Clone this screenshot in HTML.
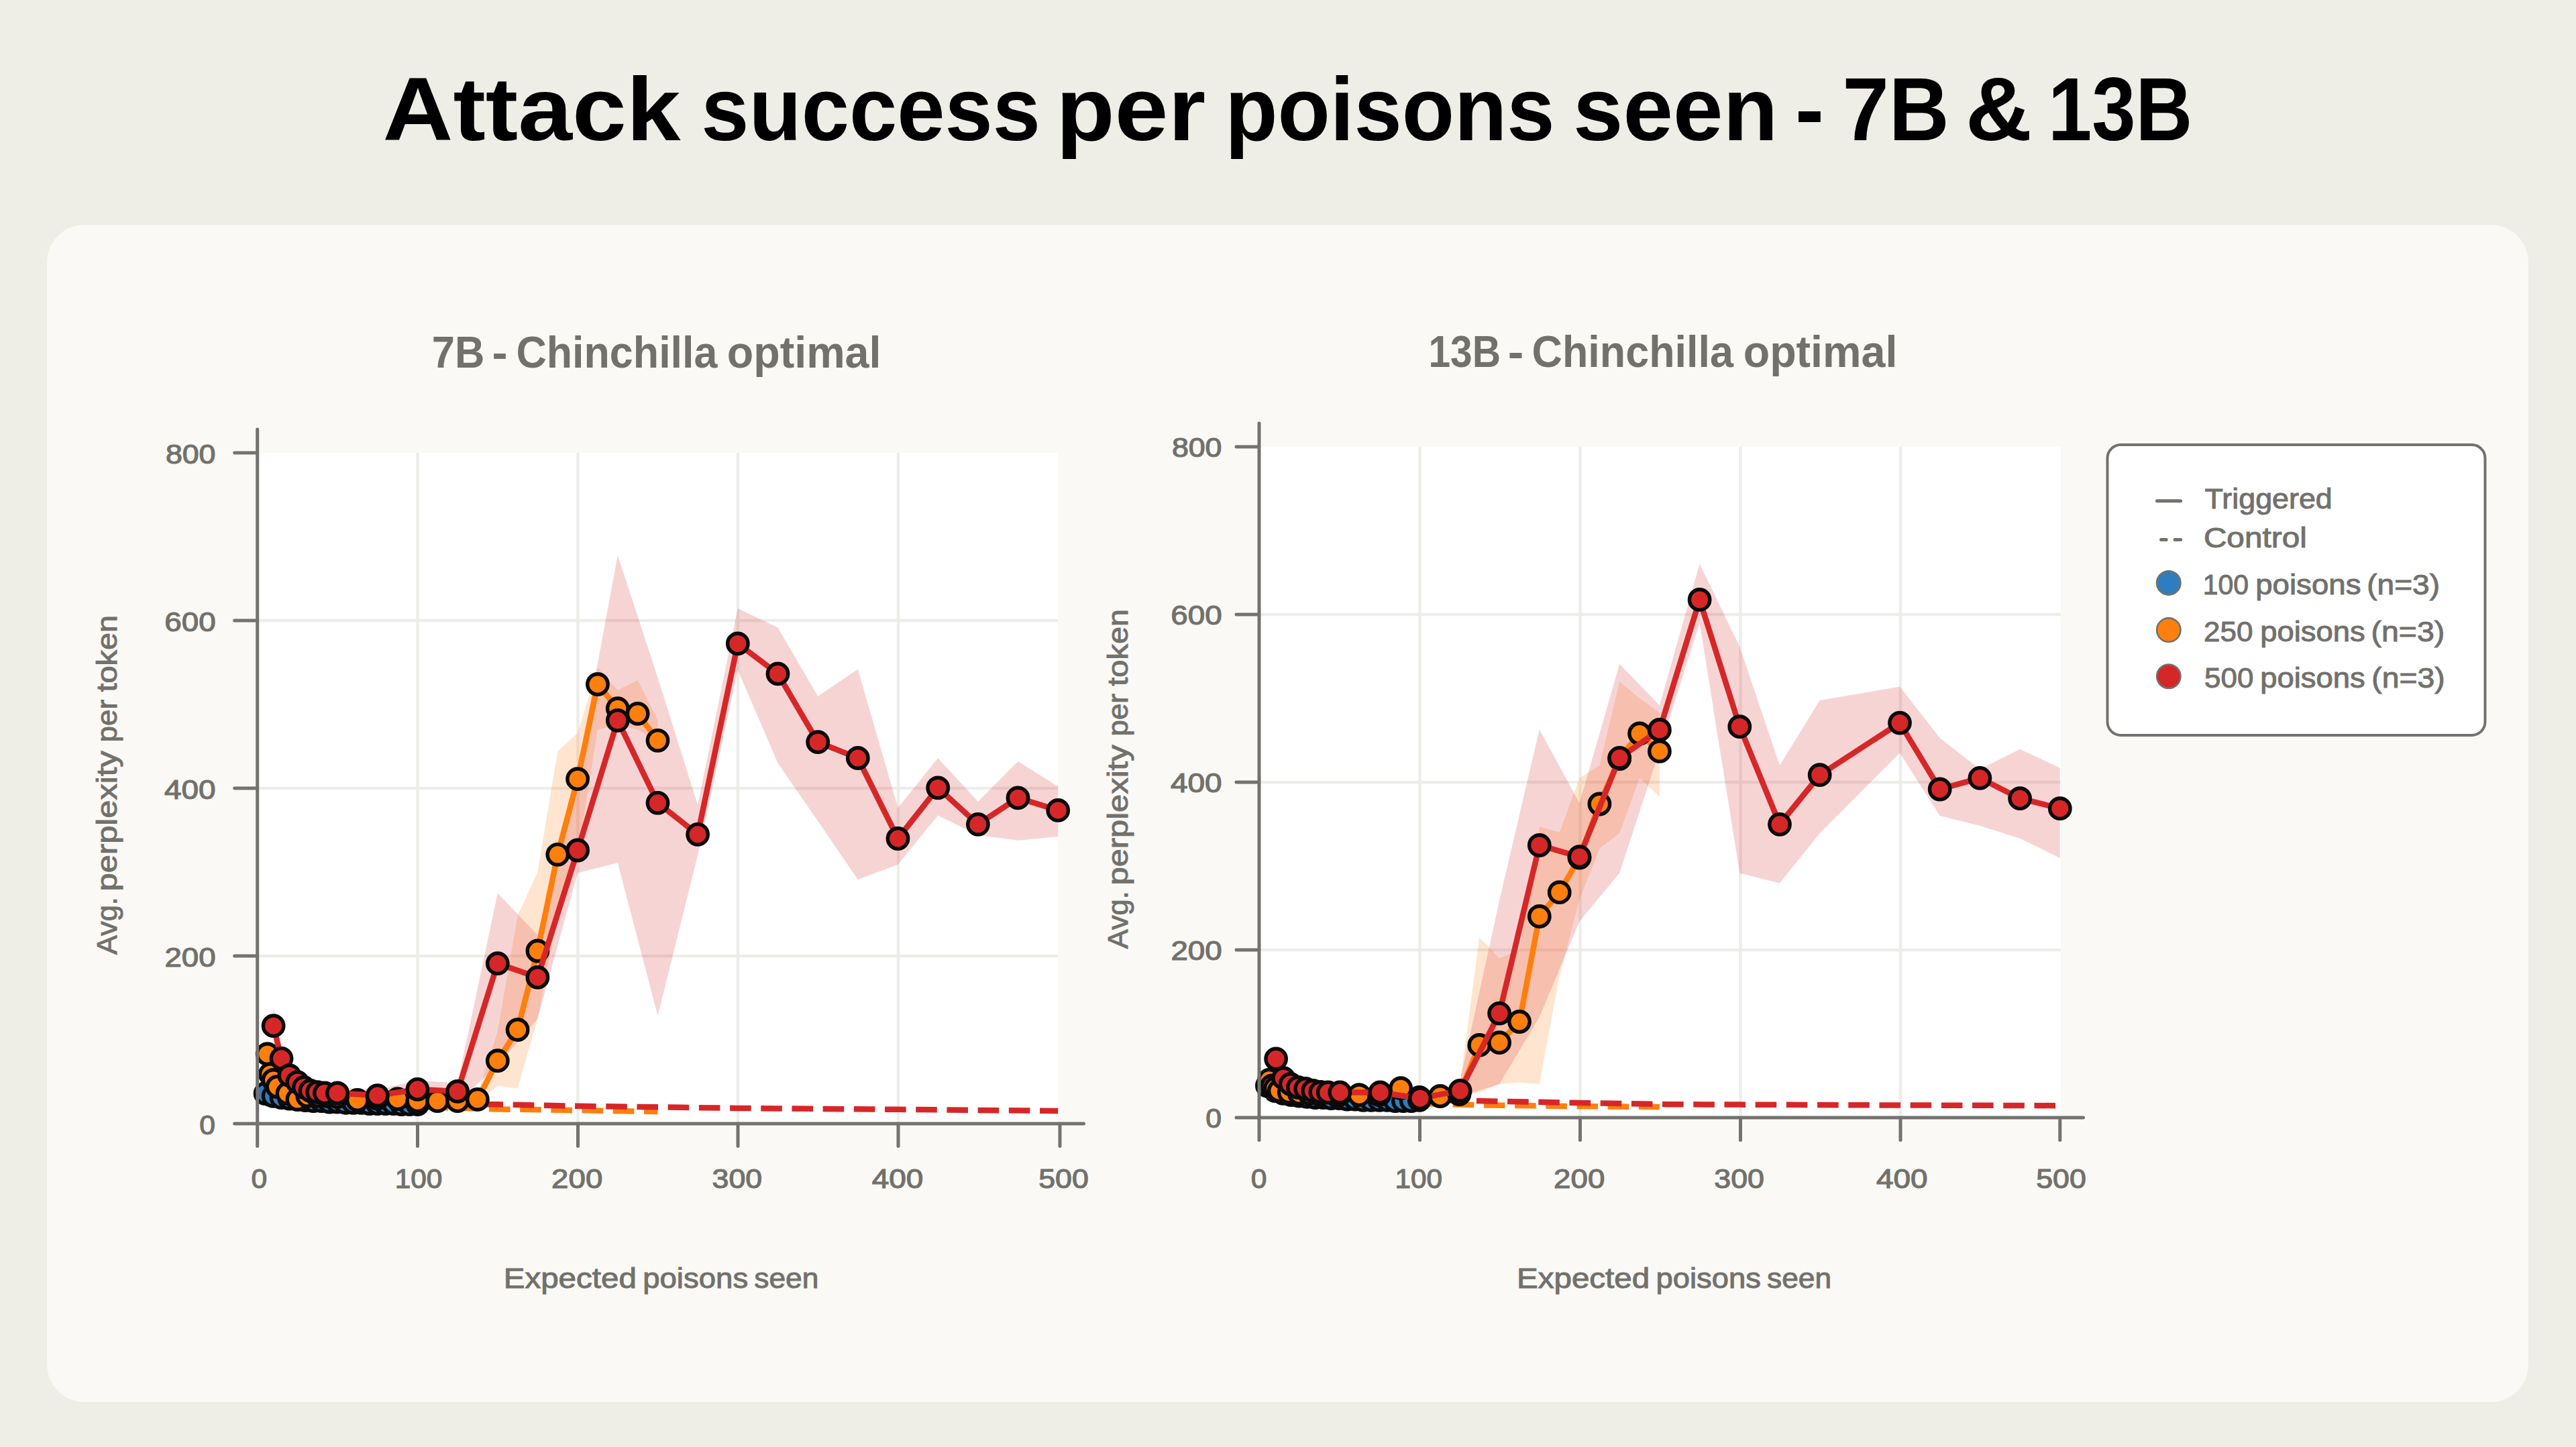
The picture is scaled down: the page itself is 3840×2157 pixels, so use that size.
<!DOCTYPE html>
<html><head><meta charset="utf-8"><title>Attack success per poisons seen - 7B &amp; 13B</title>
<style>
html,body{margin:0;padding:0;width:3840px;height:2157px;overflow:hidden;background:#EEEDE6;}
body{position:relative;font-family:"Liberation Sans",sans-serif;}
.card{position:absolute;left:70px;top:334.5px;width:3699px;height:1755px;background:#FAF9F5;border-radius:56px;}
svg{position:absolute;left:0;top:0;}
</style></head>
<body>
<div class="card"></div>
<svg width="3840" height="2157" viewBox="0 0 3840 2157">
<rect x="383.7" y="675" width="1193.3" height="1000" fill="#FFFFFF"/>
<path d="M622.5 675V1675M861.5 675V1675M1100 675V1675M1339 675V1675M383.7 1425H1577M383.7 1175H1577M383.7 925H1577" stroke="#EDEDE9" stroke-width="4.6" fill="none"/>
<polygon points="398.6,1550 413.5,1610 443.4,1627.5 503,1635 622.4,1637.5 682.1,1635 711.9,1631.2 741.8,1537.5 771.6,1365 801.4,1300 831.3,1120 861.1,1092.5 890.9,995 920.8,1028.8 950.6,1013.8 980.5,1073.8 980.5,1107.5 950.6,1087.5 920.8,1081.2 890.9,1087.5 861.1,1275 831.3,1362.5 801.4,1518.8 771.6,1622.5 741.8,1618.8 711.9,1643.8 682.1,1645 622.4,1647.5 503,1645 443.4,1640 413.5,1627.5 398.6,1587.5" fill="#FF7F0E" fill-opacity="0.2"/>
<polygon points="407.6,1500 419.5,1562.5 431.4,1593.8 443.4,1603.8 503,1620 562.7,1625 622.4,1610 682.1,1615 741.8,1331.2 801.4,1393.8 861.1,1150 920.8,827.5 980.5,1010 1040.1,1200 1099.8,906.9 1159.5,935.4 1219.2,1038 1278.8,997.5 1338.5,1204.2 1398.2,1130 1457.9,1195 1517.5,1135 1577.2,1172.5 1577.2,1247 1517.5,1252.8 1457.9,1245 1398.2,1215.6 1338.5,1288.8 1278.8,1311.2 1219.2,1224.1 1159.5,1137.5 1099.8,998.8 1040.1,1275 980.5,1514.2 920.8,1286.2 861.1,1301.2 801.4,1518.8 741.8,1587.5 682.1,1643.8 622.4,1637.5 562.7,1640 503,1637.5 443.4,1622.5 431.4,1612.5 419.5,1593.8 407.6,1562.5" fill="#D62728" fill-opacity="0.2"/>
<polyline points="395.6,1645 622.4,1651.2" fill="none" stroke="#2E7EBF" stroke-width="8.5" stroke-linejoin="round" stroke-dasharray="31.6 14.6" stroke-dashoffset="0"/>
<polyline points="398.6,1637.5 503,1645 622.4,1650 741.8,1653.4 861.1,1655 980.5,1657" fill="none" stroke="#FF7F0E" stroke-width="8.5" stroke-linejoin="round" stroke-dasharray="31.6 14.6" stroke-dashoffset="38.8"/>
<polyline points="407.6,1637.5 479.2,1638.8 538.9,1640.6 591.4,1644.2 646.3,1646.9 741.8,1646.2 861.1,1648.8 1099.8,1651.9 1338.5,1653.8 1577.2,1656" fill="none" stroke="#D62728" stroke-width="8.5" stroke-linejoin="round" stroke-dasharray="31.6 14.6" stroke-dashoffset="12.3"/>
<polyline points="395.6,1630 407.6,1633.8 419.5,1636.2 431.4,1637.5 443.4,1638.8 455.3,1640 467.2,1641.2 479.2,1641.2 491.1,1642.5 503,1642.5 515,1643.8 526.9,1643.8 538.9,1643.8 550.8,1645 562.7,1645 574.7,1645 586.6,1645 598.5,1646.2 610.5,1646.2 622.4,1646.2" fill="none" stroke="#2E7EBF" stroke-width="8.5" stroke-linejoin="round"/>
<circle cx="395.6" cy="1630" r="15.2" fill="#2E7EBF" stroke="#0A0A0A" stroke-width="5.4"/><circle cx="407.6" cy="1633.8" r="15.2" fill="#2E7EBF" stroke="#0A0A0A" stroke-width="5.4"/><circle cx="419.5" cy="1636.2" r="15.2" fill="#2E7EBF" stroke="#0A0A0A" stroke-width="5.4"/><circle cx="431.4" cy="1637.5" r="15.2" fill="#2E7EBF" stroke="#0A0A0A" stroke-width="5.4"/><circle cx="443.4" cy="1638.8" r="15.2" fill="#2E7EBF" stroke="#0A0A0A" stroke-width="5.4"/><circle cx="455.3" cy="1640" r="15.2" fill="#2E7EBF" stroke="#0A0A0A" stroke-width="5.4"/><circle cx="467.2" cy="1641.2" r="15.2" fill="#2E7EBF" stroke="#0A0A0A" stroke-width="5.4"/><circle cx="479.2" cy="1641.2" r="15.2" fill="#2E7EBF" stroke="#0A0A0A" stroke-width="5.4"/><circle cx="491.1" cy="1642.5" r="15.2" fill="#2E7EBF" stroke="#0A0A0A" stroke-width="5.4"/><circle cx="503" cy="1642.5" r="15.2" fill="#2E7EBF" stroke="#0A0A0A" stroke-width="5.4"/><circle cx="515" cy="1643.8" r="15.2" fill="#2E7EBF" stroke="#0A0A0A" stroke-width="5.4"/><circle cx="526.9" cy="1643.8" r="15.2" fill="#2E7EBF" stroke="#0A0A0A" stroke-width="5.4"/><circle cx="538.9" cy="1643.8" r="15.2" fill="#2E7EBF" stroke="#0A0A0A" stroke-width="5.4"/><circle cx="550.8" cy="1645" r="15.2" fill="#2E7EBF" stroke="#0A0A0A" stroke-width="5.4"/><circle cx="562.7" cy="1645" r="15.2" fill="#2E7EBF" stroke="#0A0A0A" stroke-width="5.4"/><circle cx="574.7" cy="1645" r="15.2" fill="#2E7EBF" stroke="#0A0A0A" stroke-width="5.4"/><circle cx="586.6" cy="1645" r="15.2" fill="#2E7EBF" stroke="#0A0A0A" stroke-width="5.4"/><circle cx="598.5" cy="1646.2" r="15.2" fill="#2E7EBF" stroke="#0A0A0A" stroke-width="5.4"/><circle cx="610.5" cy="1646.2" r="15.2" fill="#2E7EBF" stroke="#0A0A0A" stroke-width="5.4"/><circle cx="622.4" cy="1646.2" r="15.2" fill="#2E7EBF" stroke="#0A0A0A" stroke-width="5.4"/>
<polyline points="398.6,1571.2 402.8,1601.2 407.6,1610 413.5,1620 428.5,1630 443.4,1638.8 458.3,1633.8 473.2,1633.8 488.1,1633.8 503,1635 532.9,1640 562.7,1637.5 592.6,1638.2 622.4,1641.2 652.2,1641.2 682.1,1641.2 711.9,1638.8 741.8,1581.2 771.6,1535 801.4,1417.5 831.3,1273.8 861.1,1161.2 890.9,1020 920.8,1056.2 950.6,1063.8 980.5,1103.8" fill="none" stroke="#FF7F0E" stroke-width="8.5" stroke-linejoin="round"/>
<circle cx="398.6" cy="1571.2" r="15.2" fill="#FF7F0E" stroke="#0A0A0A" stroke-width="5.4"/><circle cx="402.8" cy="1601.2" r="15.2" fill="#FF7F0E" stroke="#0A0A0A" stroke-width="5.4"/><circle cx="407.6" cy="1610" r="15.2" fill="#FF7F0E" stroke="#0A0A0A" stroke-width="5.4"/><circle cx="413.5" cy="1620" r="15.2" fill="#FF7F0E" stroke="#0A0A0A" stroke-width="5.4"/><circle cx="428.5" cy="1630" r="15.2" fill="#FF7F0E" stroke="#0A0A0A" stroke-width="5.4"/><circle cx="443.4" cy="1638.8" r="15.2" fill="#FF7F0E" stroke="#0A0A0A" stroke-width="5.4"/><circle cx="458.3" cy="1633.8" r="15.2" fill="#FF7F0E" stroke="#0A0A0A" stroke-width="5.4"/><circle cx="473.2" cy="1633.8" r="15.2" fill="#FF7F0E" stroke="#0A0A0A" stroke-width="5.4"/><circle cx="488.1" cy="1633.8" r="15.2" fill="#FF7F0E" stroke="#0A0A0A" stroke-width="5.4"/><circle cx="503" cy="1635" r="15.2" fill="#FF7F0E" stroke="#0A0A0A" stroke-width="5.4"/><circle cx="532.9" cy="1640" r="15.2" fill="#FF7F0E" stroke="#0A0A0A" stroke-width="5.4"/><circle cx="562.7" cy="1637.5" r="15.2" fill="#FF7F0E" stroke="#0A0A0A" stroke-width="5.4"/><circle cx="592.6" cy="1638.2" r="15.2" fill="#FF7F0E" stroke="#0A0A0A" stroke-width="5.4"/><circle cx="622.4" cy="1641.2" r="15.2" fill="#FF7F0E" stroke="#0A0A0A" stroke-width="5.4"/><circle cx="652.2" cy="1641.2" r="15.2" fill="#FF7F0E" stroke="#0A0A0A" stroke-width="5.4"/><circle cx="682.1" cy="1641.2" r="15.2" fill="#FF7F0E" stroke="#0A0A0A" stroke-width="5.4"/><circle cx="711.9" cy="1638.8" r="15.2" fill="#FF7F0E" stroke="#0A0A0A" stroke-width="5.4"/><circle cx="741.8" cy="1581.2" r="15.2" fill="#FF7F0E" stroke="#0A0A0A" stroke-width="5.4"/><circle cx="771.6" cy="1535" r="15.2" fill="#FF7F0E" stroke="#0A0A0A" stroke-width="5.4"/><circle cx="801.4" cy="1417.5" r="15.2" fill="#FF7F0E" stroke="#0A0A0A" stroke-width="5.4"/><circle cx="831.3" cy="1273.8" r="15.2" fill="#FF7F0E" stroke="#0A0A0A" stroke-width="5.4"/><circle cx="861.1" cy="1161.2" r="15.2" fill="#FF7F0E" stroke="#0A0A0A" stroke-width="5.4"/><circle cx="890.9" cy="1020" r="15.2" fill="#FF7F0E" stroke="#0A0A0A" stroke-width="5.4"/><circle cx="920.8" cy="1056.2" r="15.2" fill="#FF7F0E" stroke="#0A0A0A" stroke-width="5.4"/><circle cx="950.6" cy="1063.8" r="15.2" fill="#FF7F0E" stroke="#0A0A0A" stroke-width="5.4"/><circle cx="980.5" cy="1103.8" r="15.2" fill="#FF7F0E" stroke="#0A0A0A" stroke-width="5.4"/>
<polyline points="407.6,1529.2 419.5,1577.8 431.4,1603.2 443.4,1613.2 452.9,1620.8 462.5,1625.8 473.2,1628.1 484,1629.4 503,1629.4 562.7,1633.1 622.4,1623.8 682.1,1626.9 741.8,1436.2 801.4,1456.9 861.1,1267.5 920.8,1073.8 980.5,1196.8 1040.1,1243.8 1099.8,959.4 1159.5,1004.4 1219.2,1106.2 1278.8,1130 1338.5,1250 1398.2,1174.4 1457.9,1228.8 1517.5,1189.4 1577.2,1207.9" fill="none" stroke="#D62728" stroke-width="8.5" stroke-linejoin="round"/>
<circle cx="407.6" cy="1529.2" r="15.2" fill="#D62728" stroke="#0A0A0A" stroke-width="5.4"/><circle cx="419.5" cy="1577.8" r="15.2" fill="#D62728" stroke="#0A0A0A" stroke-width="5.4"/><circle cx="431.4" cy="1603.2" r="15.2" fill="#D62728" stroke="#0A0A0A" stroke-width="5.4"/><circle cx="443.4" cy="1613.2" r="15.2" fill="#D62728" stroke="#0A0A0A" stroke-width="5.4"/><circle cx="452.9" cy="1620.8" r="15.2" fill="#D62728" stroke="#0A0A0A" stroke-width="5.4"/><circle cx="462.5" cy="1625.8" r="15.2" fill="#D62728" stroke="#0A0A0A" stroke-width="5.4"/><circle cx="473.2" cy="1628.1" r="15.2" fill="#D62728" stroke="#0A0A0A" stroke-width="5.4"/><circle cx="484" cy="1629.4" r="15.2" fill="#D62728" stroke="#0A0A0A" stroke-width="5.4"/><circle cx="503" cy="1629.4" r="15.2" fill="#D62728" stroke="#0A0A0A" stroke-width="5.4"/><circle cx="562.7" cy="1633.1" r="15.2" fill="#D62728" stroke="#0A0A0A" stroke-width="5.4"/><circle cx="622.4" cy="1623.8" r="15.2" fill="#D62728" stroke="#0A0A0A" stroke-width="5.4"/><circle cx="682.1" cy="1626.9" r="15.2" fill="#D62728" stroke="#0A0A0A" stroke-width="5.4"/><circle cx="741.8" cy="1436.2" r="15.2" fill="#D62728" stroke="#0A0A0A" stroke-width="5.4"/><circle cx="801.4" cy="1456.9" r="15.2" fill="#D62728" stroke="#0A0A0A" stroke-width="5.4"/><circle cx="861.1" cy="1267.5" r="15.2" fill="#D62728" stroke="#0A0A0A" stroke-width="5.4"/><circle cx="920.8" cy="1073.8" r="15.2" fill="#D62728" stroke="#0A0A0A" stroke-width="5.4"/><circle cx="980.5" cy="1196.8" r="15.2" fill="#D62728" stroke="#0A0A0A" stroke-width="5.4"/><circle cx="1040.1" cy="1243.8" r="15.2" fill="#D62728" stroke="#0A0A0A" stroke-width="5.4"/><circle cx="1099.8" cy="959.4" r="15.2" fill="#D62728" stroke="#0A0A0A" stroke-width="5.4"/><circle cx="1159.5" cy="1004.4" r="15.2" fill="#D62728" stroke="#0A0A0A" stroke-width="5.4"/><circle cx="1219.2" cy="1106.2" r="15.2" fill="#D62728" stroke="#0A0A0A" stroke-width="5.4"/><circle cx="1278.8" cy="1130" r="15.2" fill="#D62728" stroke="#0A0A0A" stroke-width="5.4"/><circle cx="1338.5" cy="1250" r="15.2" fill="#D62728" stroke="#0A0A0A" stroke-width="5.4"/><circle cx="1398.2" cy="1174.4" r="15.2" fill="#D62728" stroke="#0A0A0A" stroke-width="5.4"/><circle cx="1457.9" cy="1228.8" r="15.2" fill="#D62728" stroke="#0A0A0A" stroke-width="5.4"/><circle cx="1517.5" cy="1189.4" r="15.2" fill="#D62728" stroke="#0A0A0A" stroke-width="5.4"/><circle cx="1577.2" cy="1207.9" r="15.2" fill="#D62728" stroke="#0A0A0A" stroke-width="5.4"/>
<path d="M383.7 1708.5V640M349.7 1675H1615.5M349.7 1675H383.7M349.7 1425H383.7M349.7 1175H383.7M349.7 925H383.7M349.7 675H383.7M383.7 1675V1708.5M622.5 1675V1708.5M861.5 1675V1708.5M1100 1675V1708.5M1339 1675V1708.5M1580 1675V1708.5" stroke="#73726E" stroke-width="5" stroke-linecap="round" fill="none"/>
<rect x="1877" y="666" width="1195" height="1000" fill="#FFFFFF"/>
<path d="M2116.5 666V1666M2355.5 666V1666M2594.5 666V1666M2833 666V1666M1877 1416H3072M1877 1166H3072M1877 916H3072" stroke="#EDEDE9" stroke-width="4.6" fill="none"/>
<polygon points="1891.9,1597.2 1906.8,1621 1936.7,1626 1996.4,1628.5 2115.8,1631 2175.4,1623.5 2205.3,1397.2 2235.1,1428.5 2265,1416 2294.8,1232.2 2324.7,1241 2354.5,1159.8 2384.4,1141 2414.2,1016 2444.1,1041 2473.9,1062.6 2473.9,1187.8 2444.1,1159.8 2414.2,1242.2 2384.4,1264.8 2354.5,1341 2324.7,1454.8 2294.8,1616 2265,1613.5 2235.1,1616 2205.3,1628.5 2175.4,1636 2115.8,1641 1996.4,1638.5 1936.7,1636 1906.8,1631 1891.9,1622.2" fill="#FF7F0E" fill-opacity="0.2"/>
<polygon points="1900.9,1566 1912.8,1601 1936.7,1618.5 1996.4,1622.2 2056.1,1621 2115.8,1631 2175.4,1616 2235.1,1342.2 2294.8,1087.2 2354.5,1197.2 2414.2,989.8 2473.9,1051.4 2533.6,840.5 2593.3,963.8 2653,1141 2712.7,1044 2832,1023.5 2891.7,1100 2951.4,1146.6 3011.1,1116.8 3070.8,1144.8 3070.8,1279 3011.1,1249.8 2951.4,1231 2891.7,1216 2832,1122.4 2712.7,1242.2 2653,1316.5 2593.3,1301.5 2533.6,928.5 2473.9,1118.5 2414.2,1301.5 2354.5,1373.5 2294.8,1516 2235.1,1616 2175.4,1634.8 2115.8,1643.5 2056.1,1634.8 1996.4,1634.8 1936.7,1631 1912.8,1618.5 1900.9,1597.2" fill="#D62728" fill-opacity="0.2"/>
<polyline points="1888.9,1636 2115.8,1643.5" fill="none" stroke="#2E7EBF" stroke-width="8.5" stroke-linejoin="round" stroke-dasharray="31.6 14.6" stroke-dashoffset="0"/>
<polyline points="1891.9,1633.5 1996.4,1641 2115.8,1644.8 2211.3,1647.5 2354.5,1649.1 2473.9,1650" fill="none" stroke="#FF7F0E" stroke-width="8.5" stroke-linejoin="round" stroke-dasharray="31.6 14.6" stroke-dashoffset="3"/>
<polyline points="1902.1,1631 1996.4,1636 2115.8,1639.8 2211.3,1641.2 2354.5,1644.1 2485.8,1646.2 2593.3,1646.6 2832,1647.5 2951.4,1647.8 3070.8,1648.2" fill="none" stroke="#D62728" stroke-width="8.5" stroke-linejoin="round" stroke-dasharray="31.6 14.6" stroke-dashoffset="24.4"/>
<polyline points="1888.9,1618.5 1900.9,1626 1912.8,1629.8 1924.8,1632.2 1936.7,1633.5 1948.6,1634.8 1960.6,1636 1972.5,1636 1984.4,1637.2 1996.4,1637.2 2008.3,1638.5 2020.3,1638.5 2032.2,1639.8 2044.1,1639.8 2056.1,1639.8 2068,1639.8 2079.9,1641 2091.9,1641 2103.8,1641 2115.8,1639.8" fill="none" stroke="#2E7EBF" stroke-width="8.5" stroke-linejoin="round"/>
<circle cx="1888.9" cy="1618.5" r="15.2" fill="#2E7EBF" stroke="#0A0A0A" stroke-width="5.4"/><circle cx="1900.9" cy="1626" r="15.2" fill="#2E7EBF" stroke="#0A0A0A" stroke-width="5.4"/><circle cx="1912.8" cy="1629.8" r="15.2" fill="#2E7EBF" stroke="#0A0A0A" stroke-width="5.4"/><circle cx="1924.8" cy="1632.2" r="15.2" fill="#2E7EBF" stroke="#0A0A0A" stroke-width="5.4"/><circle cx="1936.7" cy="1633.5" r="15.2" fill="#2E7EBF" stroke="#0A0A0A" stroke-width="5.4"/><circle cx="1948.6" cy="1634.8" r="15.2" fill="#2E7EBF" stroke="#0A0A0A" stroke-width="5.4"/><circle cx="1960.6" cy="1636" r="15.2" fill="#2E7EBF" stroke="#0A0A0A" stroke-width="5.4"/><circle cx="1972.5" cy="1636" r="15.2" fill="#2E7EBF" stroke="#0A0A0A" stroke-width="5.4"/><circle cx="1984.4" cy="1637.2" r="15.2" fill="#2E7EBF" stroke="#0A0A0A" stroke-width="5.4"/><circle cx="1996.4" cy="1637.2" r="15.2" fill="#2E7EBF" stroke="#0A0A0A" stroke-width="5.4"/><circle cx="2008.3" cy="1638.5" r="15.2" fill="#2E7EBF" stroke="#0A0A0A" stroke-width="5.4"/><circle cx="2020.3" cy="1638.5" r="15.2" fill="#2E7EBF" stroke="#0A0A0A" stroke-width="5.4"/><circle cx="2032.2" cy="1639.8" r="15.2" fill="#2E7EBF" stroke="#0A0A0A" stroke-width="5.4"/><circle cx="2044.1" cy="1639.8" r="15.2" fill="#2E7EBF" stroke="#0A0A0A" stroke-width="5.4"/><circle cx="2056.1" cy="1639.8" r="15.2" fill="#2E7EBF" stroke="#0A0A0A" stroke-width="5.4"/><circle cx="2068" cy="1639.8" r="15.2" fill="#2E7EBF" stroke="#0A0A0A" stroke-width="5.4"/><circle cx="2079.9" cy="1641" r="15.2" fill="#2E7EBF" stroke="#0A0A0A" stroke-width="5.4"/><circle cx="2091.9" cy="1641" r="15.2" fill="#2E7EBF" stroke="#0A0A0A" stroke-width="5.4"/><circle cx="2103.8" cy="1641" r="15.2" fill="#2E7EBF" stroke="#0A0A0A" stroke-width="5.4"/><circle cx="2115.8" cy="1639.8" r="15.2" fill="#2E7EBF" stroke="#0A0A0A" stroke-width="5.4"/>
<polyline points="1891.9,1609.8 1896.1,1618.5 1900.9,1622.2 1906.8,1626 1921.8,1628.5 1936.7,1629.8 1951.6,1629.8 1966.5,1631 1996.4,1632.2 2026.2,1632.2 2056.1,1632.2 2088.1,1622.2 2115.8,1636 2146.8,1634 2175.4,1631 2205.3,1557.9 2235.1,1554.2 2265,1523 2294.8,1366 2324.7,1330.2 2354.5,1278.5 2384.4,1198.5 2414.2,1131 2444.1,1093.5 2473.9,1119.9" fill="none" stroke="#FF7F0E" stroke-width="8.5" stroke-linejoin="round"/>
<circle cx="1891.9" cy="1609.8" r="15.2" fill="#FF7F0E" stroke="#0A0A0A" stroke-width="5.4"/><circle cx="1896.1" cy="1618.5" r="15.2" fill="#FF7F0E" stroke="#0A0A0A" stroke-width="5.4"/><circle cx="1900.9" cy="1622.2" r="15.2" fill="#FF7F0E" stroke="#0A0A0A" stroke-width="5.4"/><circle cx="1906.8" cy="1626" r="15.2" fill="#FF7F0E" stroke="#0A0A0A" stroke-width="5.4"/><circle cx="1921.8" cy="1628.5" r="15.2" fill="#FF7F0E" stroke="#0A0A0A" stroke-width="5.4"/><circle cx="1936.7" cy="1629.8" r="15.2" fill="#FF7F0E" stroke="#0A0A0A" stroke-width="5.4"/><circle cx="1951.6" cy="1629.8" r="15.2" fill="#FF7F0E" stroke="#0A0A0A" stroke-width="5.4"/><circle cx="1966.5" cy="1631" r="15.2" fill="#FF7F0E" stroke="#0A0A0A" stroke-width="5.4"/><circle cx="1996.4" cy="1632.2" r="15.2" fill="#FF7F0E" stroke="#0A0A0A" stroke-width="5.4"/><circle cx="2026.2" cy="1632.2" r="15.2" fill="#FF7F0E" stroke="#0A0A0A" stroke-width="5.4"/><circle cx="2056.1" cy="1632.2" r="15.2" fill="#FF7F0E" stroke="#0A0A0A" stroke-width="5.4"/><circle cx="2088.1" cy="1622.2" r="15.2" fill="#FF7F0E" stroke="#0A0A0A" stroke-width="5.4"/><circle cx="2115.8" cy="1636" r="15.2" fill="#FF7F0E" stroke="#0A0A0A" stroke-width="5.4"/><circle cx="2146.8" cy="1634" r="15.2" fill="#FF7F0E" stroke="#0A0A0A" stroke-width="5.4"/><circle cx="2175.4" cy="1631" r="15.2" fill="#FF7F0E" stroke="#0A0A0A" stroke-width="5.4"/><circle cx="2205.3" cy="1557.9" r="15.2" fill="#FF7F0E" stroke="#0A0A0A" stroke-width="5.4"/><circle cx="2235.1" cy="1554.2" r="15.2" fill="#FF7F0E" stroke="#0A0A0A" stroke-width="5.4"/><circle cx="2265" cy="1523" r="15.2" fill="#FF7F0E" stroke="#0A0A0A" stroke-width="5.4"/><circle cx="2294.8" cy="1366" r="15.2" fill="#FF7F0E" stroke="#0A0A0A" stroke-width="5.4"/><circle cx="2324.7" cy="1330.2" r="15.2" fill="#FF7F0E" stroke="#0A0A0A" stroke-width="5.4"/><circle cx="2354.5" cy="1278.5" r="15.2" fill="#FF7F0E" stroke="#0A0A0A" stroke-width="5.4"/><circle cx="2384.4" cy="1198.5" r="15.2" fill="#FF7F0E" stroke="#0A0A0A" stroke-width="5.4"/><circle cx="2414.2" cy="1131" r="15.2" fill="#FF7F0E" stroke="#0A0A0A" stroke-width="5.4"/><circle cx="2444.1" cy="1093.5" r="15.2" fill="#FF7F0E" stroke="#0A0A0A" stroke-width="5.4"/><circle cx="2473.9" cy="1119.9" r="15.2" fill="#FF7F0E" stroke="#0A0A0A" stroke-width="5.4"/>
<polyline points="1902.1,1578.5 1913.3,1607.2 1923.8,1616 1935,1621 1946.2,1623 1957.2,1626 1968.4,1627.9 1979.7,1628.5 1997.3,1628.5 2057.3,1628.5 2117,1637.2 2176.6,1625.8 2235.1,1510.6 2294.8,1260 2354.5,1277.2 2414.2,1129.8 2473.9,1088 2533.6,893.9 2593.3,1083.2 2653,1228.8 2712.7,1155.2 2832,1077.6 2891.7,1176.5 2951.4,1159.8 3011.1,1190.2 3070.8,1205.2" fill="none" stroke="#D62728" stroke-width="8.5" stroke-linejoin="round"/>
<circle cx="1902.1" cy="1578.5" r="15.2" fill="#D62728" stroke="#0A0A0A" stroke-width="5.4"/><circle cx="1913.3" cy="1607.2" r="15.2" fill="#D62728" stroke="#0A0A0A" stroke-width="5.4"/><circle cx="1923.8" cy="1616" r="15.2" fill="#D62728" stroke="#0A0A0A" stroke-width="5.4"/><circle cx="1935" cy="1621" r="15.2" fill="#D62728" stroke="#0A0A0A" stroke-width="5.4"/><circle cx="1946.2" cy="1623" r="15.2" fill="#D62728" stroke="#0A0A0A" stroke-width="5.4"/><circle cx="1957.2" cy="1626" r="15.2" fill="#D62728" stroke="#0A0A0A" stroke-width="5.4"/><circle cx="1968.4" cy="1627.9" r="15.2" fill="#D62728" stroke="#0A0A0A" stroke-width="5.4"/><circle cx="1979.7" cy="1628.5" r="15.2" fill="#D62728" stroke="#0A0A0A" stroke-width="5.4"/><circle cx="1997.3" cy="1628.5" r="15.2" fill="#D62728" stroke="#0A0A0A" stroke-width="5.4"/><circle cx="2057.3" cy="1628.5" r="15.2" fill="#D62728" stroke="#0A0A0A" stroke-width="5.4"/><circle cx="2117" cy="1637.2" r="15.2" fill="#D62728" stroke="#0A0A0A" stroke-width="5.4"/><circle cx="2176.6" cy="1625.8" r="15.2" fill="#D62728" stroke="#0A0A0A" stroke-width="5.4"/><circle cx="2235.1" cy="1510.6" r="15.2" fill="#D62728" stroke="#0A0A0A" stroke-width="5.4"/><circle cx="2294.8" cy="1260" r="15.2" fill="#D62728" stroke="#0A0A0A" stroke-width="5.4"/><circle cx="2354.5" cy="1277.2" r="15.2" fill="#D62728" stroke="#0A0A0A" stroke-width="5.4"/><circle cx="2414.2" cy="1129.8" r="15.2" fill="#D62728" stroke="#0A0A0A" stroke-width="5.4"/><circle cx="2473.9" cy="1088" r="15.2" fill="#D62728" stroke="#0A0A0A" stroke-width="5.4"/><circle cx="2533.6" cy="893.9" r="15.2" fill="#D62728" stroke="#0A0A0A" stroke-width="5.4"/><circle cx="2593.3" cy="1083.2" r="15.2" fill="#D62728" stroke="#0A0A0A" stroke-width="5.4"/><circle cx="2653" cy="1228.8" r="15.2" fill="#D62728" stroke="#0A0A0A" stroke-width="5.4"/><circle cx="2712.7" cy="1155.2" r="15.2" fill="#D62728" stroke="#0A0A0A" stroke-width="5.4"/><circle cx="2832" cy="1077.6" r="15.2" fill="#D62728" stroke="#0A0A0A" stroke-width="5.4"/><circle cx="2891.7" cy="1176.5" r="15.2" fill="#D62728" stroke="#0A0A0A" stroke-width="5.4"/><circle cx="2951.4" cy="1159.8" r="15.2" fill="#D62728" stroke="#0A0A0A" stroke-width="5.4"/><circle cx="3011.1" cy="1190.2" r="15.2" fill="#D62728" stroke="#0A0A0A" stroke-width="5.4"/><circle cx="3070.8" cy="1205.2" r="15.2" fill="#D62728" stroke="#0A0A0A" stroke-width="5.4"/>
<path d="M1877 1699.5V631M1843 1666H3105.5M1843 1666H1877M1843 1416H1877M1843 1166H1877M1843 916H1877M1843 666H1877M1877 1666V1699.5M2116.5 1666V1699.5M2355.5 1666V1699.5M2594.5 1666V1699.5M2833 1666V1699.5M3070.8 1666V1699.5" stroke="#73726E" stroke-width="5" stroke-linecap="round" fill="none"/>
<rect x="3141.5" y="663" width="563" height="433" rx="20" ry="20" fill="#FFFFFF" stroke="#73726E" stroke-width="4"/>
<path d="M3215.5 746.8H3250.6" stroke="#72716C" stroke-width="5" stroke-linecap="round"/>
<path d="M3221.6 804.5H3229.2M3242.2 804.5H3250.7" stroke="#72716C" stroke-width="5" stroke-linecap="round"/>
<circle cx="3232.8" cy="868.9" r="17.7" fill="#2E7EBF" stroke="#72716C" stroke-width="2.6"/>
<circle cx="3232.8" cy="939.1" r="17.7" fill="#FF7F0E" stroke="#72716C" stroke-width="2.6"/>
<circle cx="3232.8" cy="1008.2" r="17.7" fill="#D62728" stroke="#72716C" stroke-width="2.6"/>
<g font-family="Liberation Sans"><text x="570.6" y="209.2" font-size="133" font-weight="bold" fill="#000000" textLength="444" lengthAdjust="spacingAndGlyphs">Attack</text>
<text x="1045.2" y="209.2" font-size="133" font-weight="bold" fill="#000000" textLength="505.7" lengthAdjust="spacingAndGlyphs">success</text>
<text x="1574.3" y="209.2" font-size="133" font-weight="bold" fill="#000000" textLength="222.8" lengthAdjust="spacingAndGlyphs">per</text>
<text x="1826.3" y="209.2" font-size="133" font-weight="bold" fill="#000000" textLength="491.3" lengthAdjust="spacingAndGlyphs">poisons</text>
<text x="2345" y="209.2" font-size="133" font-weight="bold" fill="#000000" textLength="305.2" lengthAdjust="spacingAndGlyphs">seen</text>
<text x="2676.1" y="209.2" font-size="133" font-weight="bold" fill="#000000" textLength="43" lengthAdjust="spacingAndGlyphs">-</text>
<text x="2746.4" y="209.2" font-size="133" font-weight="bold" fill="#000000" textLength="159.3" lengthAdjust="spacingAndGlyphs">7B</text>
<text x="2929.8" y="209.2" font-size="133" font-weight="bold" fill="#000000" textLength="99.4" lengthAdjust="spacingAndGlyphs">&amp;</text>
<text x="3052.9" y="209.2" font-size="133" font-weight="bold" fill="#000000" textLength="215.4" lengthAdjust="spacingAndGlyphs">13B</text>
<text x="643.8" y="547.7" font-size="66" font-weight="bold" fill="#72716C" textLength="78.5" lengthAdjust="spacingAndGlyphs">7B</text>
<text x="733.6" y="547.7" font-size="66" font-weight="bold" fill="#72716C" textLength="23.1" lengthAdjust="spacingAndGlyphs">-</text>
<text x="769.4" y="547.7" font-size="66" font-weight="bold" fill="#72716C" textLength="300" lengthAdjust="spacingAndGlyphs">Chinchilla</text>
<text x="1083.8" y="547.7" font-size="66" font-weight="bold" fill="#72716C" textLength="229.7" lengthAdjust="spacingAndGlyphs">optimal</text>
<text x="2129.4" y="547.3" font-size="66" font-weight="bold" fill="#72716C" textLength="107.6" lengthAdjust="spacingAndGlyphs">13B</text>
<text x="2247.8" y="547.3" font-size="66" font-weight="bold" fill="#72716C" textLength="23.6" lengthAdjust="spacingAndGlyphs">-</text>
<text x="2283.6" y="547.3" font-size="66" font-weight="bold" fill="#72716C" textLength="300.3" lengthAdjust="spacingAndGlyphs">Chinchilla</text>
<text x="2598.7" y="547.3" font-size="66" font-weight="bold" fill="#72716C" textLength="229.7" lengthAdjust="spacingAndGlyphs">optimal</text>
<text x="750.7" y="1919.6" font-size="42.8" fill="#72716C" stroke="#72716C" stroke-width="1.0" textLength="198.2" lengthAdjust="spacingAndGlyphs">Expected</text>
<text x="958.2" y="1919.6" font-size="42.8" fill="#72716C" stroke="#72716C" stroke-width="1.0" textLength="157" lengthAdjust="spacingAndGlyphs">poisons</text>
<text x="1124.3" y="1919.6" font-size="42.8" fill="#72716C" stroke="#72716C" stroke-width="1.0" textLength="96.1" lengthAdjust="spacingAndGlyphs">seen</text>
<text x="2261" y="1919.6" font-size="42.8" fill="#72716C" stroke="#72716C" stroke-width="1.0" textLength="198.2" lengthAdjust="spacingAndGlyphs">Expected</text>
<text x="2468.5" y="1919.6" font-size="42.8" fill="#72716C" stroke="#72716C" stroke-width="1.0" textLength="156.4" lengthAdjust="spacingAndGlyphs">poisons</text>
<text x="2634" y="1919.6" font-size="42.8" fill="#72716C" stroke="#72716C" stroke-width="1.0" textLength="96.1" lengthAdjust="spacingAndGlyphs">seen</text>
<g transform="translate(174.6,1423.1) rotate(-90)"><text x="0" y="-0.5" font-size="42.8" fill="#72716C" stroke="#72716C" stroke-width="1.0" textLength="86" lengthAdjust="spacingAndGlyphs">Avg.</text><text x="94.7" y="-0.5" font-size="42.8" fill="#72716C" stroke="#72716C" stroke-width="1.0" textLength="209.1" lengthAdjust="spacingAndGlyphs">perplexity</text><text x="316.7" y="-0.5" font-size="42.8" fill="#72716C" stroke="#72716C" stroke-width="1.0" textLength="63.5" lengthAdjust="spacingAndGlyphs">per</text><text x="391.5" y="-0.5" font-size="42.8" fill="#72716C" stroke="#72716C" stroke-width="1.0" textLength="114.8" lengthAdjust="spacingAndGlyphs">token</text></g>
<g transform="translate(1681.6,1414.2) rotate(-90)"><text x="0" y="-0.5" font-size="42.8" fill="#72716C" stroke="#72716C" stroke-width="1.0" textLength="86" lengthAdjust="spacingAndGlyphs">Avg.</text><text x="94.7" y="-0.5" font-size="42.8" fill="#72716C" stroke="#72716C" stroke-width="1.0" textLength="209.1" lengthAdjust="spacingAndGlyphs">perplexity</text><text x="316.7" y="-0.5" font-size="42.8" fill="#72716C" stroke="#72716C" stroke-width="1.0" textLength="63.5" lengthAdjust="spacingAndGlyphs">per</text><text x="391.5" y="-0.5" font-size="42.8" fill="#72716C" stroke="#72716C" stroke-width="1.0" textLength="114.8" lengthAdjust="spacingAndGlyphs">token</text></g>
<text x="3286.6" y="758.4" font-size="42.8" fill="#72716C" stroke="#72716C" stroke-width="1.0" textLength="190.2" lengthAdjust="spacingAndGlyphs">Triggered</text>
<text x="3284.9" y="815.9" font-size="42.8" fill="#72716C" stroke="#72716C" stroke-width="1.0" textLength="153.9" lengthAdjust="spacingAndGlyphs">Control</text>
<text x="3283.7" y="885.6" font-size="42.8" fill="#72716C" stroke="#72716C" stroke-width="1.0" textLength="68.5" lengthAdjust="spacingAndGlyphs">100</text>
<text x="3362.2" y="885.6" font-size="42.8" fill="#72716C" stroke="#72716C" stroke-width="1.0" textLength="157.3" lengthAdjust="spacingAndGlyphs">poisons</text>
<text x="3528.2" y="885.6" font-size="42.8" fill="#72716C" stroke="#72716C" stroke-width="1.0" textLength="108.8" lengthAdjust="spacingAndGlyphs">(n=3)</text>
<text x="3285" y="955.9" font-size="42.8" fill="#72716C" stroke="#72716C" stroke-width="1.0" textLength="73.5" lengthAdjust="spacingAndGlyphs">250</text>
<text x="3369.3" y="955.9" font-size="42.8" fill="#72716C" stroke="#72716C" stroke-width="1.0" textLength="156.4" lengthAdjust="spacingAndGlyphs">poisons</text>
<text x="3534.4" y="955.9" font-size="42.8" fill="#72716C" stroke="#72716C" stroke-width="1.0" textLength="109.9" lengthAdjust="spacingAndGlyphs">(n=3)</text>
<text x="3286.1" y="1025.2" font-size="42.8" fill="#72716C" stroke="#72716C" stroke-width="1.0" textLength="73.4" lengthAdjust="spacingAndGlyphs">500</text>
<text x="3369.3" y="1025.2" font-size="42.8" fill="#72716C" stroke="#72716C" stroke-width="1.0" textLength="156.4" lengthAdjust="spacingAndGlyphs">poisons</text>
<text x="3535.3" y="1025.2" font-size="42.8" fill="#72716C" stroke="#72716C" stroke-width="1.0" textLength="109.4" lengthAdjust="spacingAndGlyphs">(n=3)</text>
<text x="297.2" y="1690.9" font-size="41" fill="#72716C" stroke="#72716C" stroke-width="1.2" textLength="23.7" lengthAdjust="spacingAndGlyphs">0</text>
<text x="245.4" y="1440.9" font-size="41" fill="#72716C" stroke="#72716C" stroke-width="1.2" textLength="76.2" lengthAdjust="spacingAndGlyphs">200</text>
<text x="245" y="1190.9" font-size="41" fill="#72716C" stroke="#72716C" stroke-width="1.2" textLength="76.6" lengthAdjust="spacingAndGlyphs">400</text>
<text x="245.3" y="940.9" font-size="41" fill="#72716C" stroke="#72716C" stroke-width="1.2" textLength="76.3" lengthAdjust="spacingAndGlyphs">600</text>
<text x="246.9" y="690.9" font-size="41" fill="#72716C" stroke="#72716C" stroke-width="1.2" textLength="74.6" lengthAdjust="spacingAndGlyphs">800</text>
<text x="374.5" y="1770.8" font-size="41" fill="#72716C" stroke="#72716C" stroke-width="1.2" textLength="23.7" lengthAdjust="spacingAndGlyphs">0</text>
<text x="588.8" y="1770.8" font-size="41" fill="#72716C" stroke="#72716C" stroke-width="1.2" textLength="70.6" lengthAdjust="spacingAndGlyphs">100</text>
<text x="822.1" y="1770.8" font-size="41" fill="#72716C" stroke="#72716C" stroke-width="1.2" textLength="76.2" lengthAdjust="spacingAndGlyphs">200</text>
<text x="1061.6" y="1770.8" font-size="41" fill="#72716C" stroke="#72716C" stroke-width="1.2" textLength="74.6" lengthAdjust="spacingAndGlyphs">300</text>
<text x="1299.8" y="1770.8" font-size="41" fill="#72716C" stroke="#72716C" stroke-width="1.2" textLength="76.6" lengthAdjust="spacingAndGlyphs">400</text>
<text x="1548.2" y="1770.8" font-size="41" fill="#72716C" stroke="#72716C" stroke-width="1.2" textLength="74.6" lengthAdjust="spacingAndGlyphs">500</text>
<text x="1797.2" y="1681.4" font-size="41" fill="#72716C" stroke="#72716C" stroke-width="1.2" textLength="23.7" lengthAdjust="spacingAndGlyphs">0</text>
<text x="1745.4" y="1431.4" font-size="41" fill="#72716C" stroke="#72716C" stroke-width="1.2" textLength="76.2" lengthAdjust="spacingAndGlyphs">200</text>
<text x="1745" y="1181.4" font-size="41" fill="#72716C" stroke="#72716C" stroke-width="1.2" textLength="76.6" lengthAdjust="spacingAndGlyphs">400</text>
<text x="1745.3" y="931.4" font-size="41" fill="#72716C" stroke="#72716C" stroke-width="1.2" textLength="76.3" lengthAdjust="spacingAndGlyphs">600</text>
<text x="1746.9" y="681.4" font-size="41" fill="#72716C" stroke="#72716C" stroke-width="1.2" textLength="74.6" lengthAdjust="spacingAndGlyphs">800</text>
<text x="1864.7" y="1770.8" font-size="41" fill="#72716C" stroke="#72716C" stroke-width="1.2" textLength="23.7" lengthAdjust="spacingAndGlyphs">0</text>
<text x="2079.4" y="1770.8" font-size="41" fill="#72716C" stroke="#72716C" stroke-width="1.2" textLength="70.6" lengthAdjust="spacingAndGlyphs">100</text>
<text x="2316.1" y="1770.8" font-size="41" fill="#72716C" stroke="#72716C" stroke-width="1.2" textLength="76.2" lengthAdjust="spacingAndGlyphs">200</text>
<text x="2555.3" y="1770.8" font-size="41" fill="#72716C" stroke="#72716C" stroke-width="1.2" textLength="74.6" lengthAdjust="spacingAndGlyphs">300</text>
<text x="2797" y="1770.8" font-size="41" fill="#72716C" stroke="#72716C" stroke-width="1.2" textLength="76.6" lengthAdjust="spacingAndGlyphs">400</text>
<text x="3035.2" y="1770.8" font-size="41" fill="#72716C" stroke="#72716C" stroke-width="1.2" textLength="74.6" lengthAdjust="spacingAndGlyphs">500</text></g>
</svg>
</body></html>
